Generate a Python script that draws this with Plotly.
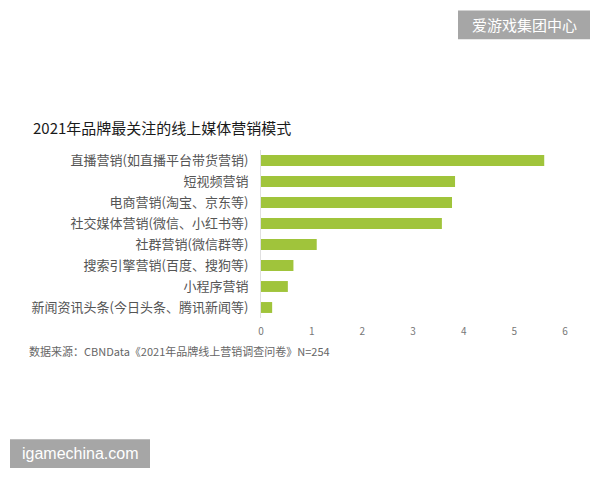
import plotly.graph_objects as go

categories = [
    "直播营销(如直播平台带货营销)",
    "短视频营销",
    "电商营销(淘宝、京东等)",
    "社交媒体营销(微信、小红书等)",
    "社群营销(微信群等)",
    "搜索引擎营销(百度、搜狗等)",
    "小程序营销",
    "新闻资讯头条(今日头条、腾讯新闻等)",
]
values = [5.59, 3.83, 3.77, 3.57, 1.10, 0.64, 0.53, 0.22]
tick_vals = [0, 1, 2, 3, 4, 5, 6]

title_text = "2021年品牌最关注的线上媒体营销模式"
source_text = "数据来源：CBNData《2021年品牌线上营销调查问卷》N=254"

CJK = "Noto Sans CJK SC"
W, H = 600, 480
ML, MR, MT, MB = 261, 35, 150, 161.5
PW, PH = W - ML - MR, H - MT - MB

fig = go.Figure(go.Bar(
    x=values, y=categories, orientation="h",
    marker=dict(color="#a0c43b", line=dict(width=0)),
    width=0.52,
))

fig.update_layout(
    width=W, height=H,
    margin=dict(l=ML, r=MR, t=MT, b=MB),
    paper_bgcolor="white", plot_bgcolor="white",
    showlegend=False,
    font=dict(family=CJK),
    xaxis=dict(range=[0, 6], tickvals=tick_vals, showgrid=False, zeroline=False,
               showline=False, ticks="", tickfont=dict(size=10, color="#777777"),
               ticklabelstandoff=6),
    yaxis=dict(autorange="reversed", showgrid=False, zeroline=False,
               showline=True, linecolor="#e0e0e0", linewidth=1, ticks="",
               tickfont=dict(size=13, color="#555555"), ticklabelstandoff=9),
)

def px_x(x):
    return (x - ML) / PW

def px_y(y):
    return (H - MB - y) / PH

fig.add_annotation(text=title_text, xref="paper", yref="paper",
                   x=px_x(31), y=px_y(127), xanchor="left", yanchor="middle",
                   showarrow=False, font=dict(size=15, color="#1a1a1a", family=CJK))
fig.add_annotation(text=source_text, xref="paper", yref="paper",
                   x=px_x(27), y=px_y(352), xanchor="left", yanchor="middle",
                   showarrow=False, font=dict(size=11, color="#666666", family=CJK))

# badges
fig.add_shape(type="rect", xref="paper", yref="paper",
              x0=px_x(458), x1=px_x(590), y0=px_y(39), y1=px_y(10),
              fillcolor="#a6a6a6", line=dict(width=0), layer="above")
fig.add_annotation(text="爱游戏集团中心", xref="paper", yref="paper",
                   x=px_x(524), y=px_y(24.5), xanchor="center", yanchor="middle",
                   showarrow=False, font=dict(size=15, color="white", family=CJK))
fig.add_shape(type="rect", xref="paper", yref="paper",
              x0=px_x(10), x1=px_x(150), y0=px_y(469), y1=px_y(440),
              fillcolor="#a6a6a6", line=dict(width=0), layer="above")
fig.add_annotation(text="igamechina.com", xref="paper", yref="paper",
                   x=px_x(80), y=px_y(454.5), xanchor="center", yanchor="middle",
                   showarrow=False, font=dict(size=16, color="white", family="Liberation Sans"))

fig.write_html("out.html")
